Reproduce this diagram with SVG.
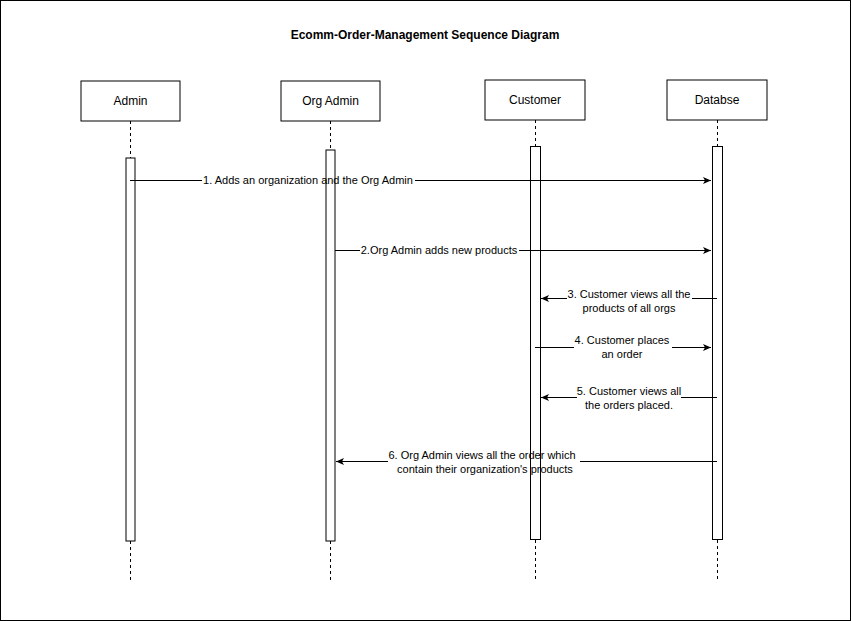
<svg xmlns="http://www.w3.org/2000/svg" width="851" height="621" viewBox="0 0 851 621">
<defs>
<style>
.t{font-family:"Liberation Sans",Arial,sans-serif;font-size:11px;fill:#000;text-anchor:middle}
.n{font-family:"Liberation Sans",Arial,sans-serif;font-size:12px;fill:#000;text-anchor:middle}
.box{fill:#fff;stroke:#000;stroke-width:1}
.life{stroke:#000;stroke-width:1;stroke-dasharray:3,3;fill:none}
.bar{fill:#fff;stroke:#000;stroke-width:1}
.msg{stroke:#000;stroke-width:1;fill:none}
</style>
<marker id="ah" markerWidth="10" markerHeight="8" refX="8" refY="3.5" orient="auto" markerUnits="userSpaceOnUse">
<path d="M0,0 L8,3.5 L0,7 L2,3.5 z" fill="#000"/>
</marker>
</defs>
<rect x="0.5" y="0.5" width="850" height="620" fill="#fff" stroke="#000"/>
<text x="425" y="39" class="n" font-weight="bold">Ecomm-Order-Management Sequence Diagram</text>

<g id="admin">
<rect class="box" x="81" y="81" width="99" height="40"/>
<text class="n" x="130.5" y="105">Admin</text>
<line class="life" x1="130.5" y1="121" x2="130.5" y2="580"/>
<rect class="bar" x="126" y="158" width="9" height="383"/>
</g>
<g id="orgadmin">
<rect class="box" x="281" y="81" width="99" height="40"/>
<text class="n" x="330.5" y="105">Org Admin</text>
<line class="life" x1="330.5" y1="121" x2="330.5" y2="580"/>
<rect class="bar" x="326" y="150" width="9" height="391"/>
</g>
<g id="customer">
<rect class="box" x="485" y="80" width="100" height="40"/>
<text class="n" x="535" y="104">Customer</text>
<line class="life" x1="535.5" y1="120" x2="535.5" y2="580"/>
<rect class="bar" x="530.5" y="146.5" width="10" height="393"/>
</g>
<g id="database">
<rect class="box" x="667" y="80" width="100" height="40"/>
<text class="n" x="717" y="104">Databse</text>
<line class="life" x1="717.5" y1="120" x2="717.5" y2="580"/>
<rect class="bar" x="712.5" y="146.5" width="10" height="393"/>
</g>

<g id="connectors">
<g id="m1">
<path class="msg" d="M130,180.5 H202"/>
<path class="msg" d="M415,180.5 H711" marker-end="url(#ah)"/>
<text class="t" x="308" y="184">1. Adds an organization and the Org Admin</text>
</g>
<g id="m2">
<path class="msg" d="M335,250.5 H360"/>
<path class="msg" d="M519,250.5 H711" marker-end="url(#ah)"/>
<text class="t" x="439" y="254">2.Org Admin adds new products</text>
</g>
<g id="m3">
<path class="msg" d="M717,298.5 H692"/>
<path class="msg" d="M567,298.5 H541" marker-end="url(#ah)"/>
<text class="t" x="629" y="298">3. Customer views all the</text>
<text class="t" x="629" y="312">products of all orgs</text>
</g>
<g id="m4">
<path class="msg" d="M535,347.5 H574"/>
<path class="msg" d="M672,347.5 H711" marker-end="url(#ah)"/>
<text class="t" x="622" y="344">4. Customer places</text>
<text class="t" x="622" y="358">an order</text>
</g>
<g id="m5">
<path class="msg" d="M717,397.5 H681"/>
<path class="msg" d="M577,397.5 H541" marker-end="url(#ah)"/>
<text class="t" x="629" y="395">5. Customer views all</text>
<text class="t" x="629" y="409">the orders placed.</text>
</g>
<g id="m6">
<path class="msg" d="M717,461.5 H580"/>
<path class="msg" d="M388,461.5 H336" marker-end="url(#ah)"/>
<text class="t" x="482" y="459">6. Org Admin views all the order which</text>
<text class="t" x="485" y="473">contain their organization's products</text>
</g>
</g>
</svg>
